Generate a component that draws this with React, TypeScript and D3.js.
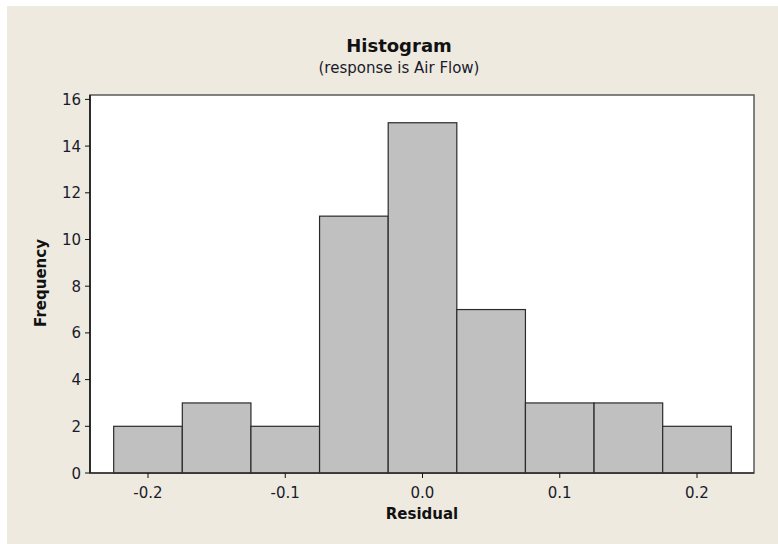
import { useEffect, useRef } from "react"
import * as d3 from "d3"

const binCenters = [-0.2, -0.15, -0.1, -0.05, 0.0, 0.05, 0.1, 0.15, 0.2]
const counts = [2, 3, 2, 11, 15, 7, 3, 3, 2]
const xTicks = [-0.2, -0.1, 0.0, 0.1, 0.2]
const yTicks = [0, 2, 4, 6, 8, 10, 12, 14, 16]
const binWidth = 0.05

export default function App() {

  const ref = useRef<SVGSVGElement | null>(null)

  useEffect(() => {

    document.body.style.margin = "0"
    document.body.style.overflow = "hidden"
    document.body.style.background = "#eeeae0"

    const svg = d3.select(ref.current)
    svg.selectAll("*").remove()

    const left = 90
    const right = 754
    const top = 95
    const bottom = 473
    const font = "'DejaVu Sans', Verdana, sans-serif"

    // white strip along the top and left edges, beige everywhere else
    svg.append("rect")
      .attr("width", "100%").attr("height", "100%")
      .attr("fill", "#ffffff")
    svg.append("rect")
      .attr("x", 7).attr("y", 6)
      .attr("width", "100%").attr("height", "100%")
      .attr("fill", "#eeeae0")

    // x: -0.2 sits at 148, 0.2 at 697
    const x = d3.scaleLinear().domain([-0.2, 0.2]).range([148, 697])
    const y = d3.scaleLinear().domain([0, 16]).range([bottom, bottom - 16 * 23.35])

    svg.append("rect")
      .attr("x", left).attr("y", top)
      .attr("width", right - left).attr("height", bottom - top)
      .attr("fill", "#ffffff")
      .attr("stroke", "#5a5a5a")
      .attr("stroke-width", 1.5)

    const data = binCenters.map((c, i) => ({ c, n: counts[i] }))

    svg.append("g")
      .selectAll("rect")
      .data(data)
      .enter()
      .append("rect")
      .attr("x", d => x(d.c - binWidth / 2))
      .attr("width", d => x(d.c + binWidth / 2) - x(d.c - binWidth / 2))
      .attr("y", d => y(d.n))
      .attr("height", d => y(0) - y(d.n))
      .attr("fill", "#c0c0c0")
      .attr("stroke", "#2a2a2a")
      .attr("stroke-width", 1.2)

    // axes lines
    svg.append("line")
      .attr("x1", left).attr("x2", left)
      .attr("y1", top).attr("y2", bottom)
      .attr("stroke", "#111").attr("stroke-width", 1.5)
    svg.append("line")
      .attr("x1", left).attr("x2", right)
      .attr("y1", bottom).attr("y2", bottom)
      .attr("stroke", "#333").attr("stroke-width", 1.5)

    const yAxis = svg.append("g")
    yAxis.selectAll("line")
      .data(yTicks).enter().append("line")
      .attr("x1", left - 5).attr("x2", left)
      .attr("y1", d => y(d)).attr("y2", d => y(d))
      .attr("stroke", "#111")
    yAxis.selectAll("text")
      .data(yTicks).enter().append("text")
      .attr("x", left - 9)
      .attr("y", d => y(d) + 5.5)
      .attr("text-anchor", "end")
      .attr("font-family", font)
      .attr("font-size", "15px")
      .attr("fill", "#1a1a2a")
      .text(d => d)

    const xAxis = svg.append("g")
    xAxis.selectAll("line")
      .data(xTicks).enter().append("line")
      .attr("x1", d => x(d)).attr("x2", d => x(d))
      .attr("y1", bottom).attr("y2", bottom + 5)
      .attr("stroke", "#111")
    xAxis.selectAll("text")
      .data(xTicks).enter().append("text")
      .attr("x", d => x(d))
      .attr("y", 498)
      .attr("text-anchor", "middle")
      .attr("font-family", font)
      .attr("font-size", "15px")
      .attr("fill", "#1a1a2a")
      .text(d => d.toFixed(1))

    // titles
    svg.append("text")
      .attr("x", 399).attr("y", 52)
      .attr("text-anchor", "middle")
      .attr("font-family", font)
      .attr("font-size", "18px")
      .attr("font-weight", "bold")
      .attr("fill", "#111")
      .text("Histogram")

    svg.append("text")
      .attr("x", 399).attr("y", 73)
      .attr("text-anchor", "middle")
      .attr("font-family", font)
      .attr("font-size", "15px")
      .attr("fill", "#1a1a2a")
      .text("(response is Air Flow)")

    svg.append("text")
      .attr("x", 422).attr("y", 519)
      .attr("text-anchor", "middle")
      .attr("font-family", font)
      .attr("font-size", "15px")
      .attr("font-weight", "bold")
      .attr("fill", "#111")
      .text("Residual")

    svg.append("text")
      .attr("transform", `translate(46, 283) rotate(-90)`)
      .attr("text-anchor", "middle")
      .attr("font-family", font)
      .attr("font-size", "15px")
      .attr("font-weight", "bold")
      .attr("fill", "#111")
      .text("Frequency")

  }, [])

  return (
    <svg
      ref={ref}
      style={{ position: "fixed", left: 0, top: 0, width: "100vw", height: "100vh", display: "block" }}
    />
  )
}
